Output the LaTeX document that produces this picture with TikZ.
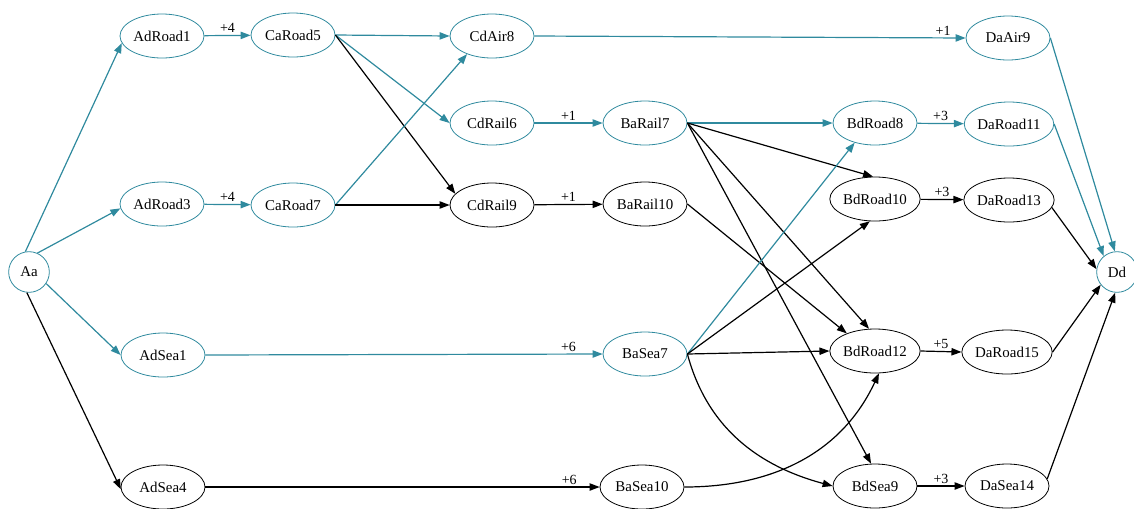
\documentclass[tikz,border=0pt]{standalone}
\usepackage{fontspec}
\setmainfont{Liberation Serif}
\usetikzlibrary{shapes.geometric,arrows.meta}

\begin{document}
\begin{tikzpicture}[x=0.75pt,y=0.75pt,
    mode/.style={ellipse,draw,line width=0.6pt,minimum width=63pt,minimum height=33pt,inner sep=0pt,font=\fontsize{11.2}{13}\selectfont},
    hub/.style={circle,draw,line width=0.6pt,minimum size=30.5pt,inner sep=0pt,font=\fontsize{11.2}{13}\selectfont},
    tealnode/.style={color={rgb,255:red,47; green,138; blue,158},text=black},
    tl/.style={line width=0.9pt,color={rgb,255:red,47; green,138; blue,158},-{Triangle[length=7.5pt,width=5.5pt]}},
    bl/.style={line width=0.9pt,black,-{Triangle[length=7.5pt,width=5.5pt]}},
    lbl/.style={above,inner sep=1.5pt,text=black,font=\fontsize{10.5}{12}\selectfont}]
    \useasboundingbox (0,0) rectangle (1134,-508);

    %start
    \node[hub,tealnode] (Aa) at (29,-272) {Aa};
    \node[mode,tealnode] (AdRoad1) at (162,-36) {AdRoad1};
    \node[mode,tealnode] (AdRoad3) at (162,-204) {AdRoad3};
    \node[mode,tealnode] (AdSea1) at (163,-355) {AdSea1};
    \node[mode] (AdSea4) at (163,-487) {AdSea4};
    \node[mode,tealnode] (CaRoad5) at (293,-35) {CaRoad5};
    \node[mode,tealnode] (CaRoad7) at (293,-205) {CaRoad7};
    %middle
    \node[mode,tealnode] (CdAir8) at (492,-36) {CdAir8};
    \node[mode,tealnode] (CdRail6) at (492,-123) {CdRail6};
    \node[mode] (CdRail9) at (492,-205) {CdRail9};
    \node[mode,tealnode] (BaRail7) at (645,-123) {BaRail7};
    \node[mode] (BaRail10) at (645,-204) {BaRail10};
    \node[mode,tealnode] (BaSea7) at (645,-354) {BaSea7};
    \node[mode] (BaSea10) at (642,-487) {BaSea10};
    %end
    \node[mode,tealnode] (BdRoad8) at (875,-123) {BdRoad8};
    \node[mode] (BdRoad10) at (875,-199) {BdRoad10};
    \node[mode] (BdRoad12) at (875,-351) {BdRoad12};
    \node[mode] (BdSea9) at (875,-486) {BdSea9};
    \node[mode,tealnode] (DaAir9) at (1008,-38) {DaAir9};
    \node[mode,tealnode] (DaRoad11) at (1009,-124) {DaRoad11};
    \node[mode] (DaRoad13) at (1009,-200) {DaRoad13};
    \node[mode] (DaRoad15) at (1007,-352) {DaRoad15};
    \node[mode] (DaSea14) at (1007,-486) {DaSea14};
    \node[hub,tealnode] (Dd) at (1117,-272) {Dd};

    %first legs
    \draw[tl] (Aa.100) -- (AdRoad1.190);
    \draw[tl] (Aa.66) -- (AdRoad3.186);
    \draw[tl] (Aa.-34) -- (AdSea1.west);
    \draw[bl] (Aa.264) -- (AdSea4.183);
    \draw[tl] (AdRoad1) -- node[lbl] {+4} (CaRoad5);
    \draw[tl] (AdRoad3) -- node[lbl] {+4} (CaRoad7);
    \draw[tl] (CaRoad5.east) -- (CdAir8.west);
    \draw[tl] (CaRoad5.east) -- (CdRail6.west);
    \draw[bl] (CaRoad5.east) -- (CdRail9.163);
    \draw[tl] (CaRoad7.east) -- (CdAir8.216);
    \draw[bl] (CaRoad7.east) -- (CdRail9.west);
    \draw[tl] (AdSea1.east) -- node[lbl,pos=.914] {+6} (BaSea7.west);
    \draw[bl] (AdSea4.east) -- node[lbl,pos=.923] {+6} (BaSea10.west);
    %middle legs
    \draw[tl] (CdAir8.east) -- node[lbl,pos=.948] {+1} (DaAir9.west);
    \draw[tl] (CdRail6) -- node[lbl] {+1} (BaRail7);
    \draw[bl] (CdRail9) -- node[lbl] {+1} (BaRail10);
    \draw[tl] (BaRail7.east) -- (BdRoad8.west);
    \draw[bl] (BaRail7.east) -- (BdRoad10.95);
    \draw[bl] (BaRail7.east) -- (BdRoad12.105);
    \draw[bl] (BaRail7.east) -- (BdSea9.100);
    \draw[bl] (BaRail10.east) -- (BdRoad12.148);
    \draw[tl] (BaSea7.east) -- (BdRoad8.224);
    \draw[bl] (BaSea7.east) -- (BdRoad10.257);
    \draw[bl] (BaSea7.east) -- (BdRoad12.west);
    \draw[bl] (BaSea7.east) to[out=-75,in=165] (BdSea9.west);
    \draw[bl] (BaSea10.east) to[out=0,in=-115] (BdRoad12.280);
    %last legs
    \draw[tl] (BdRoad8) -- node[lbl] {+3} (DaRoad11);
    \draw[bl] (BdRoad10) -- node[lbl] {+3} (DaRoad13);
    \draw[bl] (BdRoad12.east) -- node[lbl] {+5} (DaRoad15.west);
    \draw[bl] (BdSea9) -- node[lbl] {+3} (DaSea14);
    \draw[tl] (DaAir9.east) -- (Dd.96);
    \draw[tl] (DaRoad11.east) -- (Dd.130);
    \draw[bl] (DaRoad13.-10) -- (Dd.172);
    \draw[bl] (DaRoad15.east) -- (Dd.218);
    \draw[bl] (DaSea14.10) -- (Dd.265);
\end{tikzpicture}
\end{document}
